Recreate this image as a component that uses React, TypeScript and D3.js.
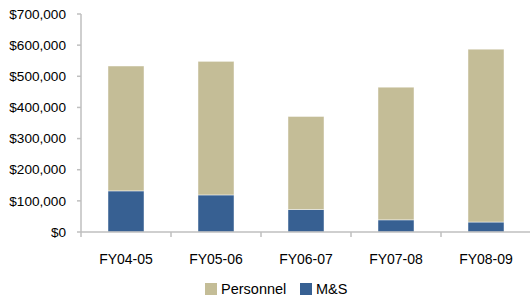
import * as d3 from 'd3';

const categories = ['FY04-05', 'FY05-06', 'FY06-07', 'FY07-08', 'FY08-09'];
const msValues = [132000, 119000, 72000, 39000, 32000];
const personnelValues = [401000, 429000, 299000, 426000, 555000];
const yTicks = [0, 100000, 200000, 300000, 400000, 500000, 600000, 700000];

const W = 530;
const H = 303;
const left = 81;
const right = 531;
const top = 14;
const bottom = 232;
const axisColor = '#BFBFBF';
const font = '"Liberation Sans", Arial, sans-serif';

const App = () => {
  const x = d3.scaleBand().domain(categories).range([left, right]).paddingInner(0.6).paddingOuter(0.3);
  const xb = d3.scaleBand().domain(categories).range([left, right]);
  const y = d3.scaleLinear().domain([0, 700000]).range([bottom, top]);
  const fmt = (v: number) => '$' + d3.format(',')(v);

  return (
    <svg width={W} height={H} style={{ position: 'absolute', left: 0, top: 0 }} fontFamily={font}>
      <rect width={W} height={H} fill="#fff" />
      {/* bars */}
      {categories.map((c, i) => {
        const m = msValues[i];
        const p = personnelValues[i];
        return (
          <g key={c}>
            <rect x={x(c)} y={y(m)} width={x.bandwidth()} height={y(0) - y(m)} fill="#376092" stroke="#fff" strokeOpacity={0.6} strokeWidth={0.75} />
            <rect x={x(c)} y={y(m + p)} width={x.bandwidth()} height={y(m) - y(m + p)} fill="#C4BD97" stroke="#fff" strokeOpacity={0.6} strokeWidth={0.75} />
          </g>
        );
      })}
      {/* y axis */}
      <line x1={left} x2={left} y1={top} y2={bottom + 5} stroke={axisColor} strokeWidth={1.5} />
      {yTicks.map(t => (
        <g key={t}>
          <line x1={left - 4} x2={left} y1={y(t)} y2={y(t)} stroke={axisColor} strokeWidth={1.5} />
          <text x={66} y={y(t)} dy="0.35em" textAnchor="end" fontSize={13.6} fill="#000">{fmt(t)}</text>
        </g>
      ))}
      {/* x axis */}
      <line x1={left} x2={right} y1={bottom} y2={bottom} stroke={axisColor} strokeWidth={1.5} />
      {categories.slice(1).map(c => (
        <line key={c} x1={xb(c)} x2={xb(c)} y1={bottom} y2={bottom + 5} stroke={axisColor} strokeWidth={1.5} />
      ))}
      {categories.map(c => (
        <text key={c} x={(xb(c) as number) + xb.bandwidth() / 2} y={259} dy="0.35em" textAnchor="middle" fontSize={14} fill="#000">{c}</text>
      ))}
      {/* legend */}
      <rect x={205} y={283} width={12} height={12} fill="#C4BD97" />
      <text x={221} y={289} dy="0.35em" fontSize={14.5} fill="#000">Personnel</text>
      <rect x={300} y={283} width={12} height={12} fill="#376092" />
      <text x={316} y={289} dy="0.35em" fontSize={14.5} fill="#000">M&amp;S</text>
    </svg>
  );
};

export default App;
